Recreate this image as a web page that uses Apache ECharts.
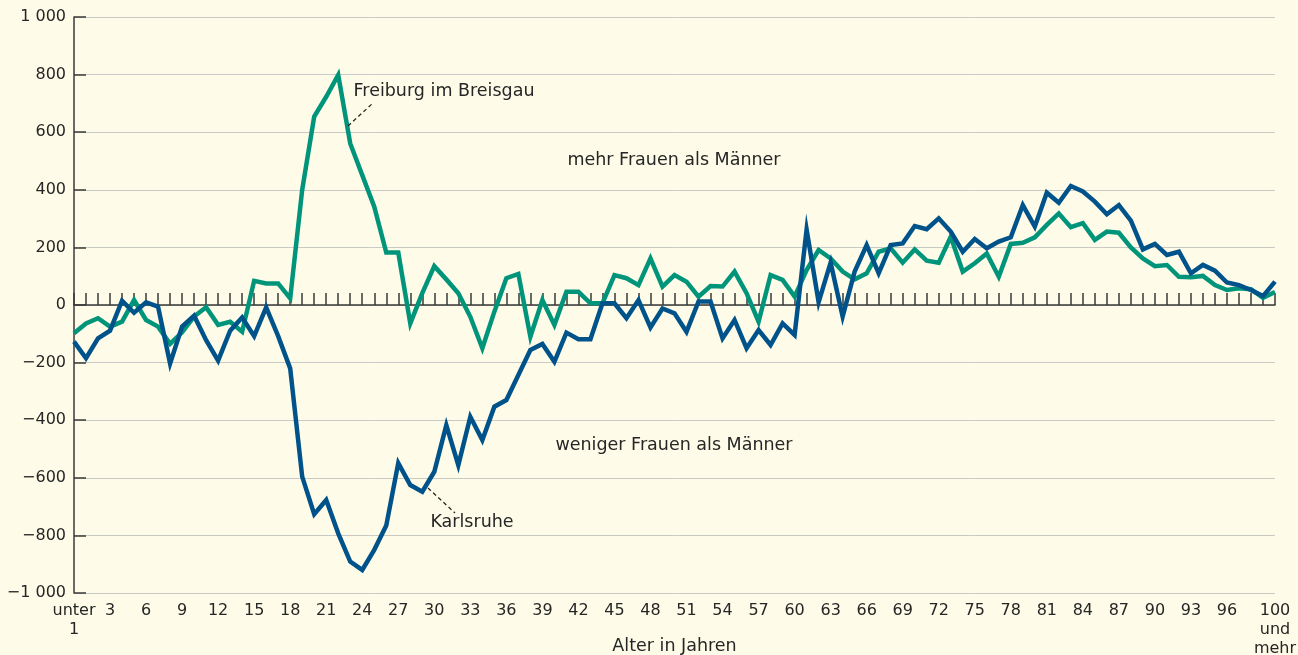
<!DOCTYPE html>
<html>
<head>
<meta charset="utf-8">
<script src="https://cdn.jsdelivr.net/npm/echarts@6/dist/echarts.min.js"></script>
<style>
  html, body { margin: 0; padding: 0; background: #fefce8; }
  #chart { width: 1298px; height: 655px; }
</style>
</head>
<body>
<div id="chart"></div>
<script>
// Alter 0 (unter 1) .. 100 (100 und mehr)
const ages = Array.from({ length: 101 }, (_, i) => i)
const ageLabels = ages.map(a => a === 0 ? 'unter\n1' : a === 100 ? '100\nund\nmehr' : String(a))

// Frauen minus Männer
const freiburg = [
  -98, -64, -46, -75, -58, 17, -52, -75, -135, -95,
  -40, -8, -69, -58, -93, 84, 75, 75, 23, 400,
  654, 723, 799, 561, 451, 341, 182, 182, -64, 41,
  135, 89, 41, -41, -150, -23, 93, 108, -110, 17,
  -69, 46, 46, 6, 6, 104, 93, 69, 162, 64,
  104, 81, 29, 66, 64, 116, 41, -58, 104, 87,
  29, 121, 191, 162, 116, 89, 110, 185, 197, 147,
  193, 154, 147, 237, 116, 145, 179, 98, 212, 216,
  235, 278, 318, 270, 284, 226, 255, 251, 200, 162,
  135, 139, 98, 96, 101, 69, 52, 58, 55, 25,
  45
]
const karlsruhe = [
  -127, -185, -116, -89, 15, -27, 9, -6, -203, -75,
  -37, -122, -193, -89, -43, -108, -8, -108, -220, -596,
  -726, -677, -793, -891, -920, -850, -766, -549, -625, -648,
  -579, -417, -556, -388, -469, -353, -330, -243, -156, -135,
  -197, -96, -119, -119, 6, 6, -46, 17, -78, -12,
  -29, -93, 12, 12, -116, -52, -150, -87, -139, -64,
  -104, 262, 10, 147, -40, 116, 208, 110, 208, 214,
  274, 263, 301, 255, 185, 229, 197, 220, 235, 347,
  272, 390, 355, 413, 394, 359, 315, 347, 293, 193,
  212, 174, 185, 110, 139, 119, 78, 69, 52, 31,
  81
]

const FONT = 'DejaVu Sans'
const TEXT = '#262626'
const AXIS = '#3a3a3a'

const chart = echarts.init(document.getElementById('chart'))

const fmtY = (v) => {
  const a = Math.abs(v)
  const s = a >= 1000 ? '1 000' : String(a)
  return v < 0 ? '\u2212' + s : s
}

const note = (text, x, y) => ({
  type: 'text', x: x, y: y, z: 10,
  style: { text: text, fill: TEXT, font: '17.5px "' + FONT + '"', align: 'center', verticalAlign: 'middle' }
})

const leader = (x1, y1, x2, y2) => ({
  type: 'line', z: 10,
  shape: { x1: x1, y1: y1, x2: x2, y2: y2 },
  style: { stroke: '#222', lineWidth: 1.2, lineDash: [4, 3] }
})

const option = {
  backgroundColor: '#fefce8',
  animation: false,
  textStyle: { fontFamily: FONT },
  grid: { left: 74, right: 23, top: 17, bottom: 62, containLabel: false, outerBoundsMode: 'none' },
  xAxis: [
    {
      // Nulllinie mit Jahresstrichen
      type: 'category',
      data: ageLabels,
      boundaryGap: false,
      position: 'bottom',
      axisLine: { show: true, onZero: true, lineStyle: { color: AXIS, width: 1.5 } },
      axisTick: { show: true, inside: true, length: 12, interval: 0, lineStyle: { color: AXIS, width: 1.5 } },
      axisLabel: { show: false },
      splitLine: { show: false },
      z: 3
    },
    {
      type: 'category',
      data: ageLabels,
      boundaryGap: false,
      position: 'bottom',
      axisLine: { show: false, onZero: false },
      axisTick: { show: false },
      axisLabel: {
        interval: (i) => (i % 3 === 0 && i <= 96) || i === 100,
        color: TEXT,
        fontSize: 16,
        fontFamily: FONT,
        lineHeight: 19,
        margin: 8
      },
      name: 'Alter in Jahren',
      nameLocation: 'middle',
      nameGap: 44,
      nameMoveOverlap: false,
      nameTextStyle: { color: TEXT, fontSize: 17.5, fontFamily: FONT }
    }
  ],
  yAxis: {
    type: 'value',
    min: -1000,
    max: 1000,
    interval: 200,
    axisLine: { show: true, lineStyle: { color: AXIS, width: 1.5 } },
    axisTick: { show: true, inside: true, length: 12, lineStyle: { color: AXIS, width: 1.5 } },
    axisLabel: { formatter: fmtY, color: TEXT, fontSize: 16, fontFamily: FONT, margin: 8 },
    splitLine: { show: true, lineStyle: { color: '#c9c9c6', width: 1 } }
  },
  series: [
    {
      name: 'Freiburg im Breisgau',
      type: 'line',
      data: freiburg,
      showSymbol: false,
      lineStyle: { color: '#00957a', width: 4.5, join: 'miter' },
      z: 4
    },
    {
      name: 'Karlsruhe',
      type: 'line',
      data: karlsruhe,
      showSymbol: false,
      lineStyle: { color: '#00538a', width: 4.5, join: 'miter' },
      z: 5
    }
  ],
  graphic: [
    note('Freiburg im Breisgau', 444, 91),
    leader(348, 126, 373, 103),
    note('mehr Frauen als Männer', 674, 160),
    note('weniger Frauen als Männer', 674, 445),
    note('Karlsruhe', 472, 522),
    leader(428, 488, 455, 513)
  ]
}

chart.setOption(option)
</script>
</body>
</html>
